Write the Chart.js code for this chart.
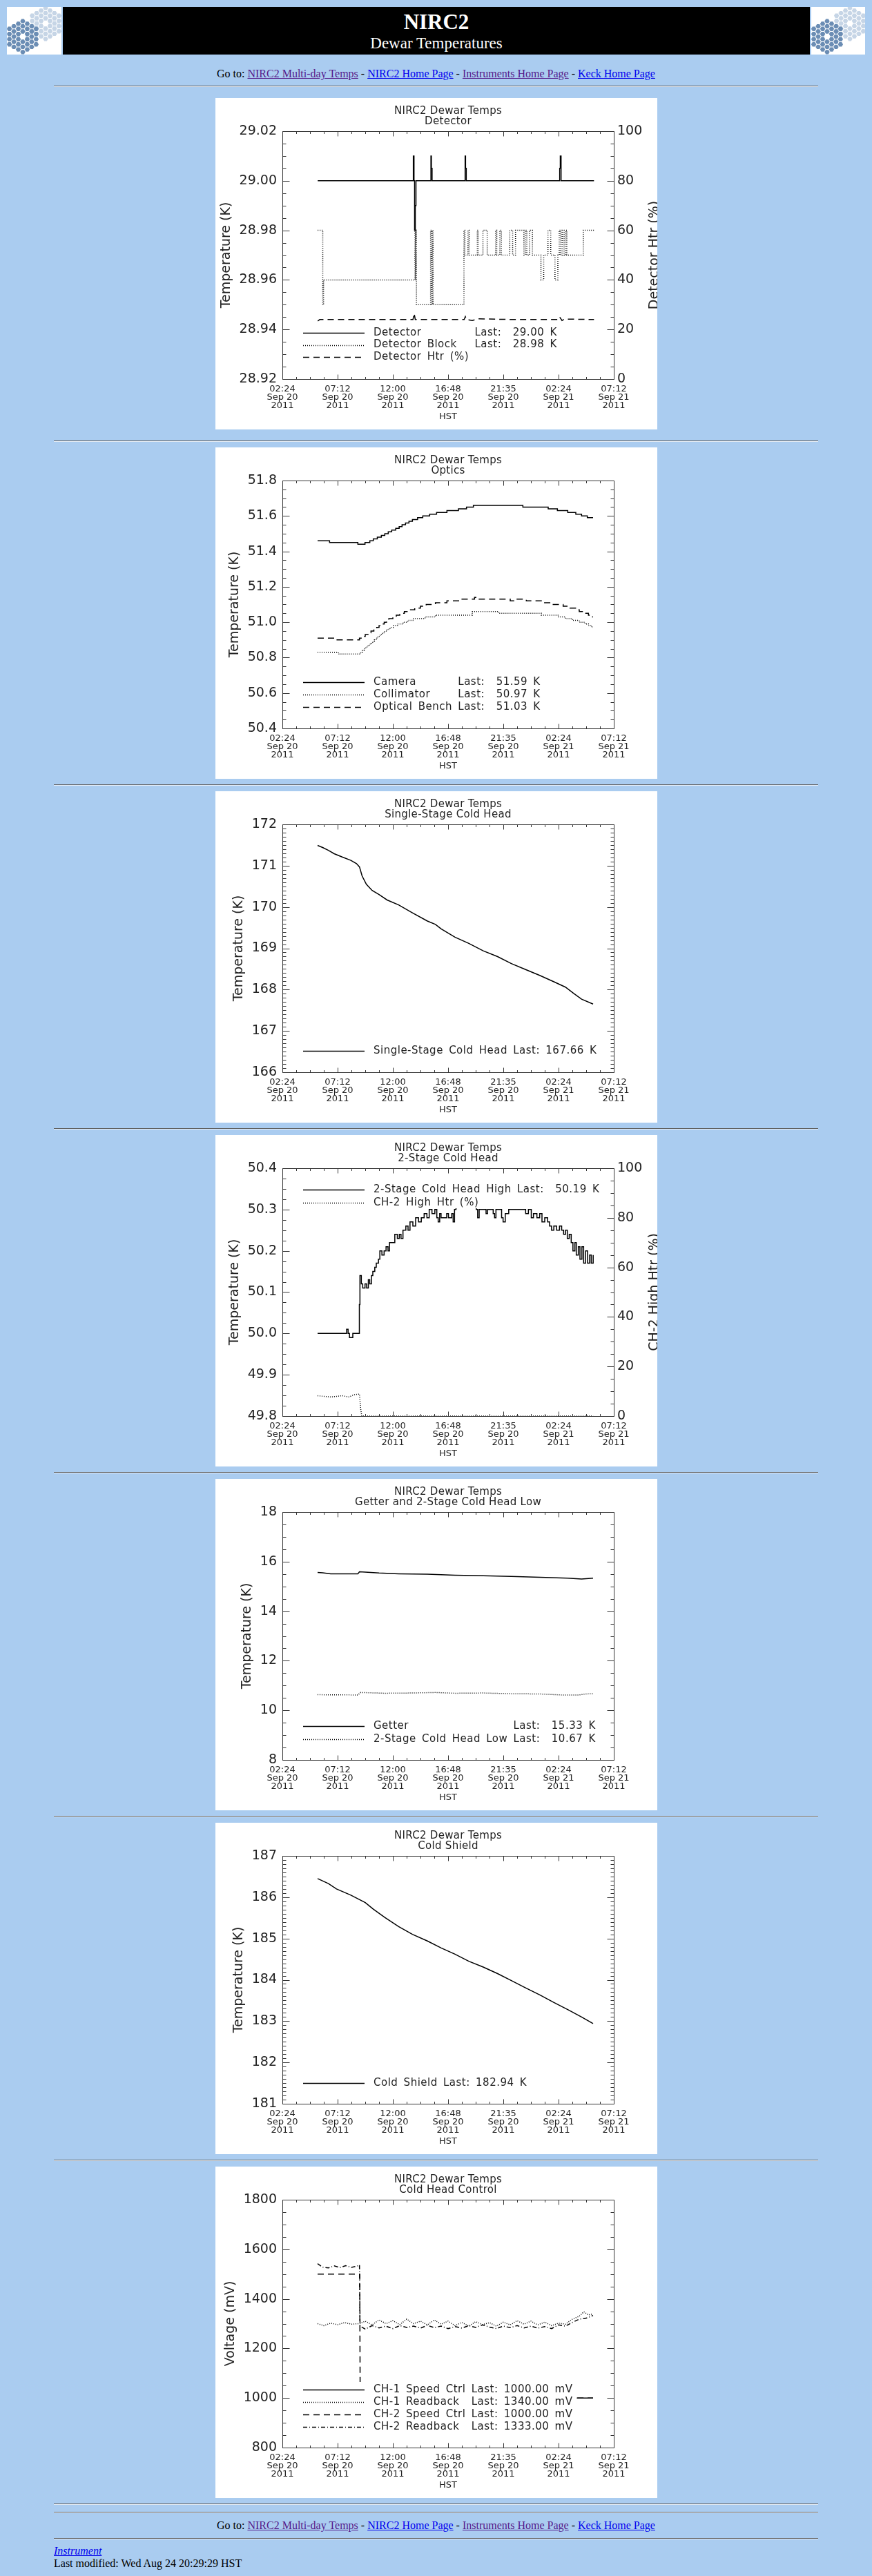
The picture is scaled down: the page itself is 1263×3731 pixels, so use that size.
<!DOCTYPE html>
<html>
<head>
<meta charset="utf-8">
<title>NIRC2 Dewar Temperatures</title>
<script src="https://cdn.jsdelivr.net/npm/chart.js"></script>
<style>
  body { margin: 8px; background: #aaccf0; color: #000;
         font-family: "Liberation Serif", "Times New Roman", serif; font-size: 16px; }
  a { color: #0000ee; }
  a.seen { color: #551a8b; }
  table.head { width: 100%; border-collapse: separate; border-spacing: 2px; }
  table.head td { padding: 0; }
  td.logo { width: 79px; height: 69px; background: #fff; vertical-align: top; }
  td.logo canvas { display: block; }
  td.name { background: #000; color: #fff; text-align: center; vertical-align: top; }
  .t1 { font-size: 31px; font-weight: bold; line-height: 36px; padding-top: 4px; }
  .t2 { font-size: 23px; line-height: 26px; }
  .nav { text-align: center; line-height: 18px; }
  hr { width: 1107px; height: 0; margin: 8px auto 0; border: 0;
       border-top: 1px solid #606060; border-bottom: 1px solid #e6eef8; }
  .plot { width: 640px; height: 480px; margin: 8px auto 0; }
  .plot canvas { display: block; background: #fff; }
  .foot { width: 1107px; margin: 8px auto 0; line-height: 18px; }
</style>
</head>
<body>

<table class="head">
  <tr>
    <td class="logo"><canvas id="logoL" width="79" height="69"></canvas></td>
    <td class="name"><div class="t1">NIRC2</div><div class="t2">Dewar Temperatures</div></td>
    <td class="logo" style="width:78px"><canvas id="logoR" width="78" height="69"></canvas></td>
  </tr>
</table>

<div class="nav" style="margin-top:17px">Go to: <a class="seen" href="#">NIRC2 Multi-day Temps</a> - <a href="#">NIRC2 Home Page</a> - <a class="seen" href="#">Instruments Home Page</a> - <a href="#">Keck Home Page</a></div>

<hr>
<div class="plot" style="margin-top:16px"><canvas id="c1" width="640" height="480"></canvas></div>
<hr style="margin-top:16px">
<div class="plot"><canvas id="c2" width="640" height="480"></canvas></div>
<hr>
<div class="plot"><canvas id="c3" width="640" height="480"></canvas></div>
<hr>
<div class="plot"><canvas id="c4" width="640" height="480"></canvas></div>
<hr>
<div class="plot"><canvas id="c5" width="640" height="480"></canvas></div>
<hr>
<div class="plot"><canvas id="c6" width="640" height="480"></canvas></div>
<hr>
<div class="plot"><canvas id="c7" width="640" height="480"></canvas></div>
<hr>
<hr style="margin-top:10px">

<div class="nav" style="margin-top:9px">Go to: <a class="seen" href="#">NIRC2 Multi-day Temps</a> - <a href="#">NIRC2 Home Page</a> - <a class="seen" href="#">Instruments Home Page</a> - <a href="#">Keck Home Page</a></div>
<hr style="margin-top:9px">
<div class="foot"><a href="#"><i>Instrument</i></a><br>Last modified: Wed Aug 24 20:29:29 HST</div>

<script>
// time axis: hours after 02:24 HST Sep 20 2011
const xTickHours = [0, 4.8, 9.6, 14.4, 19.2, 24.0, 28.8]
const xTickLabels = [
    ['02:24', 'Sep 20', '2011'],
    ['07:12', 'Sep 20', '2011'],
    ['12:00', 'Sep 20', '2011'],
    ['16:48', 'Sep 20', '2011'],
    ['21:35', 'Sep 20', '2011'],
    ['02:24', 'Sep 21', '2011'],
    ['07:12', 'Sep 21', '2011']
]
const plotTitle = 'NIRC2 Dewar Temps'

// y ticks
const pctTicks = [0, 20, 40, 60, 80, 100]
const pctLabels = ['0', '20', '40', '60', '80', '100']
const detTicks = [28.92, 28.94, 28.96, 28.98, 29.00, 29.02]
const detLabels = ['28.92', '28.94', '28.96', '28.98', '29.00', '29.02']
const optTicks = [50.4, 50.6, 50.8, 51.0, 51.2, 51.4, 51.6, 51.8]
const optLabels = ['50.4', '50.6', '50.8', '51.0', '51.2', '51.4', '51.6', '51.8']
const sschTicks = [166, 167, 168, 169, 170, 171, 172]
const sschLabels = ['166', '167', '168', '169', '170', '171', '172']
const chTicks = [49.8, 49.9, 50.0, 50.1, 50.2, 50.3, 50.4]
const chLabels = ['49.8', '49.9', '50.0', '50.1', '50.2', '50.3', '50.4']
const getTicks = [8, 10, 12, 14, 16, 18]
const getLabels = ['8', '10', '12', '14', '16', '18']
const shieldTicks = [181, 182, 183, 184, 185, 186, 187]
const shieldLabels = ['181', '182', '183', '184', '185', '186', '187']
const voltTicks = [800, 1000, 1200, 1400, 1600, 1800]
const voltLabels = ['800', '1000', '1200', '1400', '1600', '1800']

// Detector
const detHours = [3.07, 11.38, 11.44, 11.49, 11.55, 11.61, 12.91, 12.95, 13.01, 15.88, 15.92, 15.98, 24.10, 24.15, 24.22, 27.08]
const detTemp = [29.00, 29.01, 29.00, 28.98, 28.99, 29.00, 29.01, 29.005, 29.00, 29.01, 29.005, 29.00, 29.005, 29.01, 29.00, 29.00]
const blockHours = [3.07, 3.51, 3.58, 11.52, 11.57, 11.60, 11.65, 12.88, 12.98, 13.03, 13.10, 15.78, 15.86, 16.13, 16.23,
    16.94, 17.01, 17.43, 17.80, 18.54, 18.63, 18.90, 19.03, 19.76, 20.01, 20.26, 20.99, 21.11, 21.24, 21.48, 21.73,
    22.47, 22.71, 23.08, 23.32, 23.69, 23.94, 24.06, 24.18, 24.31, 24.48, 24.63, 24.72, 26.15, 27.08]
const blockTemp = [28.98, 28.95, 28.96, 28.98, 28.96, 28.98, 28.95, 28.98, 28.95, 28.98, 28.95, 28.98, 28.97, 28.98, 28.97,
    28.98, 28.97, 28.98, 28.97, 28.98, 28.97, 28.98, 28.97, 28.98, 28.97, 28.98, 28.97, 28.98, 28.97, 28.98, 28.97,
    28.96, 28.97, 28.98, 28.97, 28.96, 28.97, 28.98, 28.97, 28.98, 28.97, 28.98, 28.97, 28.98, 28.98]
const htrHours = [3.07, 3.25, 11.35, 11.45, 11.55, 15.80, 15.90, 16.00, 16.50, 17.00, 20.00, 24.00, 24.10, 24.30, 24.50, 27.08]
const htrPct = [23.4, 24.0, 24.0, 26.5, 24.0, 24.0, 25.2, 24.0, 23.6, 24.3, 24.0, 24.0, 25.0, 23.6, 24.2, 24.0]
const detLast = [29.00, 28.98, null]

// Optics
const camHours = [3.06, 4.10, 6.56, 7.18, 7.60, 7.90, 8.25, 8.60, 8.90, 9.20, 9.50, 9.85, 10.15, 10.40, 10.70, 11.00, 11.30,
    11.75, 12.20, 12.80, 13.40, 14.30, 15.30, 16.00, 16.60, 20.90, 23.10, 23.90, 24.80, 25.50, 26.00, 26.50, 27.00]
const camTemp = [51.46, 51.45, 51.44, 51.45, 51.46, 51.47, 51.48, 51.49, 51.50, 51.51, 51.52, 51.53, 51.54, 51.55, 51.56, 51.57, 51.58,
    51.59, 51.60, 51.61, 51.62, 51.63, 51.64, 51.65, 51.66, 51.65, 51.64, 51.63, 51.62, 51.61, 51.60, 51.59, 51.59]
const colHours = [3.06, 4.85, 6.80, 6.95, 7.10, 7.25, 7.45, 7.65, 7.85, 8.00, 8.15, 8.30, 8.50, 8.70, 8.90, 9.10, 9.35, 9.65,
    10.00, 10.50, 10.90, 11.40, 12.40, 13.30, 16.50, 18.80, 22.50, 24.00, 24.60, 25.20, 25.80, 26.30, 26.60, 26.90, 27.00]
const colTemp = [50.83, 50.82, 50.83, 50.84, 50.85, 50.86, 50.87, 50.88, 50.89, 50.90, 50.91, 50.92, 50.93, 50.94, 50.95, 50.96, 50.97, 50.98,
    50.99, 51.00, 51.01, 51.02, 51.03, 51.04, 51.06, 51.05, 51.04, 51.03, 51.02, 51.01, 51.00, 50.99, 50.98, 50.97, 50.97]
const benchHours = [3.06, 4.50, 6.70, 6.90, 7.20, 7.50, 7.70, 7.95, 8.20, 8.40, 8.65, 8.85, 9.05, 9.25, 9.60, 9.90, 10.20, 10.60,
    11.00, 11.50, 12.00, 12.50, 13.30, 14.30, 15.50, 16.70, 17.00, 19.80, 20.30, 21.20, 22.50, 23.40, 24.40, 25.00, 25.60,
    25.80, 26.20, 26.60, 26.90, 27.00]
const benchTemp = [50.91, 50.90, 50.91, 50.92, 50.93, 50.94, 50.95, 50.96, 50.97, 50.98, 50.99, 51.00, 51.01, 51.02, 51.03, 51.04, 51.05, 51.06,
    51.07, 51.08, 51.09, 51.10, 51.11, 51.12, 51.13, 51.14, 51.13, 51.12, 51.13, 51.12, 51.11, 51.10, 51.09, 51.08, 51.07,
    51.06, 51.05, 51.04, 51.03, 51.03]
const optLast = [51.59, 50.97, 51.03]

// Single-Stage Cold Head
const sschHours = [3.06, 3.5, 4.0, 4.5, 5.2, 5.95, 6.44, 6.7, 6.93, 7.3, 7.8, 8.4, 9.1, 10.1, 11.3, 12.6, 13.3, 13.8, 15.0, 16.2,
    17.45, 18.7, 19.9, 21.1, 22.4, 23.6, 24.6, 25.3, 26.0, 27.0]
const sschTemp = [171.49, 171.44, 171.37, 171.29, 171.21, 171.13, 171.05, 170.97, 170.75, 170.55, 170.40, 170.30, 170.17, 170.05,
    169.86, 169.66, 169.58, 169.47, 169.27, 169.12, 168.94, 168.80, 168.63, 168.49, 168.34, 168.19, 168.06, 167.91, 167.77, 167.65]
const sschLast = [167.66]

// 2-Stage Cold Head
const chHighHours = [3.06, 5.58, 5.71, 5.83, 6.12, 6.69, 6.74, 6.86, 6.98, 7.18, 7.32, 7.47, 7.59, 7.74, 7.86, 8.03, 8.16, 8.35,
    8.47, 8.65, 8.84, 9.01, 9.18, 9.31, 9.77, 9.99, 10.16, 10.31, 10.48, 10.73, 10.92, 11.09, 11.34, 11.58, 11.83, 12.07, 12.32,
    12.56, 12.76, 13.00, 13.25, 13.42, 13.54, 13.67, 13.79, 14.28, 14.43, 14.72, 14.84, 14.96, 15.09, 16.85, 16.97, 17.10, 17.70,
    17.83, 18.32, 18.44, 18.56, 19.05, 19.18, 19.37, 19.67, 21.14, 21.38, 21.63, 21.82, 22.12, 22.36, 22.56, 22.80, 23.05, 23.22,
    23.39, 23.59, 23.83, 24.08, 24.27, 24.44, 24.61, 24.76, 24.93, 25.10, 25.25, 25.42, 25.54, 25.72, 25.86, 26.03, 26.18, 26.35,
    26.52, 26.70, 26.84, 27.01]
const chHighTemp = [50.00, 50.01, 50.00, 49.99, 50.00, 50.07, 50.14, 50.12, 50.11, 50.12, 50.11, 50.13, 50.12, 50.14, 50.15, 50.16,
    50.17, 50.18, 50.20, 50.19, 50.20, 50.21, 50.20, 50.22, 50.24, 50.23, 50.24, 50.23, 50.25, 50.26, 50.25, 50.27, 50.26, 50.28,
    50.27, 50.28, 50.29, 50.28, 50.30, 50.29, 50.30, 50.28, 50.27, 50.29, 50.28, 50.29, 50.28, 50.29, 50.27, 50.30, 50.32, 50.30,
    50.28, 50.30, 50.29, 50.30, 50.29, 50.28, 50.30, 50.28, 50.27, 50.29, 50.30, 50.29, 50.30, 50.28, 50.29, 50.28, 50.29, 50.27,
    50.28, 50.27, 50.26, 50.25, 50.26, 50.25, 50.26, 50.25, 50.24, 50.25, 50.23, 50.24, 50.22, 50.20, 50.22, 50.19, 50.21, 50.18,
    50.21, 50.17, 50.20, 50.17, 50.19, 50.17, 50.19]
const chHtrHours = [3.06, 4.2, 5.2, 5.8, 6.2, 6.7, 6.8, 6.9, 27.01]
const chHtrPct = [8.2, 7.7, 8.2, 7.7, 8.6, 8.9, 3.0, 0, 0]
const chLast = [50.19, null]

// Getter and 2-Stage Cold Head Low
const getterHours = [3.06, 3.5, 4.2, 6.56, 6.7, 7.2, 8.4, 10.1, 12.6, 15.0, 17.45, 19.9, 22.4, 24.8, 26.0, 27.0]
const getterTemp = [15.56, 15.55, 15.51, 15.51, 15.59, 15.58, 15.54, 15.51, 15.49, 15.45, 15.43, 15.40, 15.37, 15.33, 15.30, 15.33]
const chLowHours = [3.06, 6.56, 6.8, 8.9, 11.3, 13.3, 15.0, 17.45, 19.9, 22.4, 24.3, 25.8, 26.3, 27.0]
const chLowTemp = [10.63, 10.62, 10.72, 10.69, 10.70, 10.72, 10.69, 10.70, 10.67, 10.66, 10.62, 10.62, 10.66, 10.67]
const getLast = [15.33, 10.67]

// Cold Shield
const shieldHours = [3.06, 4.0, 4.7, 5.95, 7.2, 7.9, 8.9, 10.1, 11.3, 12.6, 13.8, 15.0, 16.2, 17.45, 18.7, 19.9, 21.1, 22.4,
    23.6, 24.8, 26.0, 27.0]
const shieldTemp = [186.45, 186.33, 186.20, 186.05, 185.87, 185.71, 185.51, 185.29, 185.10, 184.94, 184.77, 184.62, 184.45,
    184.31, 184.15, 183.98, 183.81, 183.63, 183.45, 183.28, 183.10, 182.94]
const shieldLast = [182.94]

// Cold Head Control
const ctrl1Hours = [3.06, 27.0]
const ctrl1mV = [1000, 1000]
const read1Hours = [3.06, 3.6, 4.2, 4.8, 5.4, 6.0, 6.7, 7.2, 7.8, 8.4, 9.0, 9.6, 10.2, 10.8, 11.4, 12.0, 12.6, 13.2, 13.8, 14.4,
    15.0, 15.6, 16.2, 16.8, 17.4, 18.0, 18.6, 19.2, 19.8, 20.4, 21.0, 21.6, 22.2, 22.8, 23.4, 24.0, 24.6, 25.2, 25.8, 26.2, 26.6, 27.0]
const read1mV = [1300, 1292, 1302, 1296, 1304, 1298, 1300, 1310, 1295, 1315, 1300, 1312, 1296, 1318, 1300, 1310, 1295, 1315, 1298,
    1310, 1292, 1305, 1290, 1308, 1296, 1304, 1290, 1306, 1295, 1312, 1298, 1310, 1295, 1306, 1292, 1302, 1298, 1318, 1330, 1348, 1335, 1340]
const ctrl2Hours = [3.06, 6.72, 6.76, 27.0]
const ctrl2mV = [1500, 1500, 1000, 1000]
const read2Hours = [3.06, 3.5, 4.0, 4.5, 5.0, 5.5, 6.0, 6.5, 6.7, 6.75, 7.2, 7.8, 8.4, 9.0, 9.6, 10.2, 10.8, 11.4, 12.0, 12.6,
    13.2, 13.8, 14.4, 15.0, 15.6, 16.2, 16.8, 17.4, 18.0, 18.6, 19.2, 19.8, 20.4, 21.0, 21.6, 22.2, 22.8, 23.4, 24.0, 24.6, 25.2,
    25.8, 26.4, 27.0]
const read2mV = [1542, 1528, 1525, 1533, 1526, 1534, 1527, 1532, 1537, 1290, 1278, 1292, 1283, 1290, 1280, 1292, 1285, 1290, 1282,
    1293, 1284, 1290, 1280, 1288, 1282, 1292, 1285, 1295, 1286, 1280, 1290, 1284, 1292, 1283, 1290, 1282, 1288, 1280, 1295, 1290,
    1305, 1318, 1322, 1333]
const voltLast = [1000.00, 1340.00, 1000.00, 1333.00]


const DASH = { solid: [], dot: [1, 2], dash: [9, 6], dashdot: [6, 3, 1, 3] }
const FONT = '"DejaVu Sans"'
const LINE_W = 1.5

let pts = (hs, vs) => hs.map((h, i) => ({ x: h, y: vs[i] }))

let plots = {
    c1: { sub: 'Detector', yTitle: 'Temperature (K)', y: [28.92, 29.02, detTicks, detLabels], yMinor: 4,
          y2: [0, 100, pctTicks, pctLabels], y2Minor: 4, y2Title: 'Detector Htr (%)',
          rows: [340, 357.5, 375], last: detLast, unit: 'K', width: 7,
          series: [
              { label: 'Detector', data: pts(detHours, detTemp), style: 'solid', stepped: true },
              { label: 'Detector Block', data: pts(blockHours, blockTemp), style: 'dot', stepped: true },
              { label: 'Detector Htr (%)', data: pts(htrHours, htrPct), style: 'dash', axis: 'y2' }
          ] },
    c2: { sub: 'Optics', yTitle: 'Temperature (K)', y: [50.4, 51.8, optTicks, optLabels], yMinor: 4,
          rows: [340, 358, 376], last: optLast, unit: 'K', width: 7,
          series: [
              { label: 'Camera', data: pts(camHours, camTemp), style: 'solid', stepped: true },
              { label: 'Collimator', data: pts(colHours, colTemp), style: 'dot', stepped: true },
              { label: 'Optical Bench', data: pts(benchHours, benchTemp), style: 'dash', stepped: true }
          ] },
    c3: { sub: 'Single-Stage Cold Head', yTitle: 'Temperature (K)', y: [166, 172, sschTicks, sschLabels], yMinor: 10,
          rows: [376], last: sschLast, unit: 'K', width: 7,
          series: [
              { label: 'Single-Stage Cold Head', data: pts(sschHours, sschTemp), style: 'solid' }
          ] },
    c4: { sub: '2-Stage Cold Head', yTitle: 'Temperature (K)', y: [49.8, 50.4, chTicks, chLabels], yMinor: 4,
          y2: [0, 100, pctTicks, pctLabels], y2Minor: 4, y2Title: 'CH-2 High Htr (%)',
          rows: [79, 98], last: chLast, unit: 'K', width: 7,
          series: [
              { label: '2-Stage Cold Head High', data: pts(chHighHours, chHighTemp), style: 'solid', stepped: true },
              { label: 'CH-2 High Htr (%)', data: pts(chHtrHours, chHtrPct), style: 'dot', axis: 'y2' }
          ] },
    c5: { sub: 'Getter and 2-Stage Cold Head Low', yTitle: 'Temperature (K)', y: [8, 18, getTicks, getLabels], yMinor: 4,
          rows: [358, 377], last: getLast, unit: 'K', width: 7,
          series: [
              { label: 'Getter', data: pts(getterHours, getterTemp), style: 'solid' },
              { label: '2-Stage Cold Head Low', data: pts(chLowHours, chLowTemp), style: 'dot' }
          ] },
    c6: { sub: 'Cold Shield', yTitle: 'Temperature (K)', y: [181, 187, shieldTicks, shieldLabels], yMinor: 10,
          rows: [377], last: shieldLast, unit: 'K', width: 7,
          series: [
              { label: 'Cold Shield', data: pts(shieldHours, shieldTemp), style: 'solid' }
          ] },
    c7: { sub: 'Cold Head Control', yTitle: 'Voltage (mV)', y: [800, 1800, voltTicks, voltLabels], yMinor: 4,
          rows: [323, 341, 359, 377], last: voltLast, unit: 'mV', width: 8,
          series: [
              { label: 'CH-1 Speed Ctrl', data: pts(ctrl1Hours, ctrl1mV), style: 'solid' },
              { label: 'CH-1 Readback', data: pts(read1Hours, read1mV), style: 'dot' },
              { label: 'CH-2 Speed Ctrl', data: pts(ctrl2Hours, ctrl2mV), style: 'dash' },
              { label: 'CH-2 Readback', data: pts(read2Hours, read2mV), style: 'dashdot' }
          ] }
}


let minorSteps = (scale, n) => {
    let major = scale.ticks.map(t => t.value)
    let out = major.map(v => ({ v: v, major: true }))
    for (let i = 0; i < major.length - 1; i++) {
        let step = (major[i + 1] - major[i]) / n
        for (let k = 1; k < n; k++) out.push({ v: major[i] + k * step, major: false })
    }
    return out
}

let vtext = (c, s, x, y) => {
    c.save()
    c.translate(x, y)
    c.rotate(-Math.PI / 2)
    c.textAlign = 'center'
    c.textBaseline = 'alphabetic'
    c.fillText(s, 0, 0)
    c.restore()
}

// IDL style legend: white box over the data, names in one column, "Last:" values in another
let drawLegend = (chart, cfg) => {
    let c = chart.ctx
    let ds = chart.data.datasets
    c.save()
    c.font = '15px ' + FONT
    c.letterSpacing = '0.5px'
    c.wordSpacing = '3px'
    let nameW = Math.max(...ds.map(d => c.measureText(d.label).width))
    let lastX = 229 + nameW + c.measureText(' ').width
    let lastTxt = ds.map((d, i) => cfg.last[i] == null ? null
        : 'Last:' + cfg.last[i].toFixed(2).padStart(cfg.width) + ' ' + cfg.unit)
    let right = 229 + nameW
    lastTxt.forEach(t => { if (t) right = Math.max(right, lastX + c.measureText(t).width) })
    let rows = cfg.rows
    c.fillStyle = '#fff'
    c.fillRect(121, rows[0] - 11, right + 6 - 121, rows[rows.length - 1] - rows[0] + 19)
    ds.forEach((d, i) => {
        let y = Math.round(rows[i]) + 0.5
        c.strokeStyle = '#000'
        c.lineWidth = LINE_W
        c.setLineDash(d.borderDash)
        c.beginPath()
        c.moveTo(127, y)
        c.lineTo(216, y)
        c.stroke()
        c.fillStyle = '#222'
        c.textAlign = 'left'
        c.textBaseline = 'middle'
        c.fillText(d.label, 229, rows[i])
        if (lastTxt[i]) c.fillText(lastTxt[i], lastX, rows[i])
    })
    c.restore()
}

let drawFrame = (chart, cfg) => {
    let c = chart.ctx, a = chart.chartArea
    let L = a.left + 0.5, R = a.right + 0.5, T = a.top + 0.5, B = a.bottom + 0.5
    c.save()
    c.strokeStyle = '#333'
    c.lineWidth = 1
    c.setLineDash([])
    c.beginPath()
    c.rect(L, T, R - L, B - T)
    let sx = chart.scales.x
    minorSteps(sx, 4).forEach(t => {
        let px = Math.round(sx.getPixelForValue(t.v)) + 0.5
        let len = t.major ? 7 : 3.5
        c.moveTo(px, B); c.lineTo(px, B - len)
        c.moveTo(px, T); c.lineTo(px, T + len)
    })
    let sy = chart.scales.y
    minorSteps(sy, cfg.yMinor).forEach(t => {
        let py = Math.round(sy.getPixelForValue(t.v)) + 0.5
        let len = t.major ? 10 : 5
        c.moveTo(L, py); c.lineTo(L + len, py)
        if (!cfg.y2) { c.moveTo(R, py); c.lineTo(R - len, py) }
    })
    if (cfg.y2) {
        let s2 = chart.scales.y2
        minorSteps(s2, cfg.y2Minor).forEach(t => {
            let py = Math.round(s2.getPixelForValue(t.v)) + 0.5
            let len = t.major ? 10 : 5
            c.moveTo(R, py); c.lineTo(R - len, py)
        })
    }
    c.stroke()
    c.restore()
}

let drawTexts = (chart, cfg) => {
    let c = chart.ctx, a = chart.chartArea
    let mid = (a.left + a.right) / 2, vmid = (a.top + a.bottom) / 2
    c.save()
    c.fillStyle = '#222'
    c.textAlign = 'center'
    c.textBaseline = 'middle'
    c.font = '15px ' + FONT
    c.letterSpacing = '0.3px'
    c.fillText(plotTitle, mid, 19)
    c.fillText(cfg.sub, mid, 34)
    c.letterSpacing = '0px'
    c.font = '13px ' + FONT
    c.fillText('HST', mid, 462)
    c.font = '19px ' + FONT
    let w = Math.max(...cfg.y[3].map(t => c.measureText(t).width))
    vtext(c, cfg.yTitle, a.left - 8 - w - 14, vmid)
    if (cfg.y2Title) vtext(c, cfg.y2Title, 641, vmid)
    c.restore()
}

const idlFrame = {
    id: 'idlFrame',
    afterDatasetsDraw(chart) {
        drawLegend(chart, plots[chart.canvas.id])
    },
    afterDraw(chart) {
        let cfg = plots[chart.canvas.id]
        drawFrame(chart, cfg)
        drawTexts(chart, cfg)
    }
}

let yAxis = (def, pos) => {
    let [min, max, ticks, labels] = def
    return {
        type: 'linear', position: pos, min: min, max: max,
        grid: { display: false, drawTicks: false },
        border: { display: false },
        afterBuildTicks: s => { s.ticks = ticks.map(v => ({ value: v })) },
        afterFit: s => { s.width = pos === 'left' ? 97 : 63 },
        ticks: {
            autoSkip: false, padding: pos === 'left' ? 8 : 5, color: '#222',
            font: { family: 'DejaVu Sans', size: 19 },
            callback: (v, i) => labels[i]
        }
    }
}

let makeChart = (id) => {
    let cfg = plots[id]
    let scales = {
        x: {
            type: 'linear', min: 0, max: 28.8,
            grid: { display: false, drawTicks: false },
            border: { display: false },
            afterBuildTicks: s => { s.ticks = xTickHours.map(v => ({ value: v })) },
            afterFit: s => { s.height = 73 },
            ticks: {
                autoSkip: false, maxRotation: 0, minRotation: 0, padding: 9, color: '#222',
                font: { family: 'DejaVu Sans', size: 13, lineHeight: 0.9 },
                callback: (v, i) => xTickLabels[i]
            }
        },
        y: yAxis(cfg.y, 'left')
    }
    if (cfg.y2) scales.y2 = yAxis(cfg.y2, 'right')

    new Chart(document.getElementById(id), {
        type: 'line',
        data: {
            datasets: cfg.series.map(s => ({
                label: s.label,
                data: s.data,
                yAxisID: s.axis || 'y',
                borderColor: '#000',
                borderWidth: LINE_W,
                borderDash: DASH[s.style],
                stepped: s.stepped || false,
                pointRadius: 0,
                tension: 0,
                fill: false
            }))
        },
        options: {
            responsive: false,
            animation: false,
            events: [],
            layout: { padding: { top: 48, right: cfg.y2 ? 0 : 63, left: 0, bottom: 0 } },
            scales: scales,
            plugins: { legend: { display: false }, tooltip: { enabled: false } }
        },
        plugins: [idlFrame]
    })
}


// Keck mirror logo
let hexCluster = (c, cx, cy, col) => {
    let s = 4.3, dx = 1.5 * s, dy = Math.sqrt(3) * s
    c.fillStyle = col
    for (let q = -3; q <= 3; q++) {
        for (let r = -3; r <= 3; r++) {
            if (Math.abs(q + r) > 3 || (q === 0 && r === 0)) continue
            let x = cx + dx * q, y = cy + dy * (r + q / 2)
            c.beginPath()
            for (let k = 0; k < 6; k++) {
                let ang = Math.PI / 3 * k
                c.lineTo(x + (s - 0.6) * Math.cos(ang), y + (s - 0.6) * Math.sin(ang))
            }
            c.closePath()
            c.fill()
        }
    }
}

let drawLogo = (cv) => {
    let c = cv.getContext('2d')
    c.fillStyle = '#fff'
    c.fillRect(0, 0, cv.width, cv.height)
    hexCluster(c, 56, 24, '#c6d5e6')
    hexCluster(c, 23, 43, '#6b8db4')
}

drawLogo(document.getElementById('logoL'))
drawLogo(document.getElementById('logoR'))
Object.keys(plots).forEach(makeChart)
</script>
</body>
</html>
